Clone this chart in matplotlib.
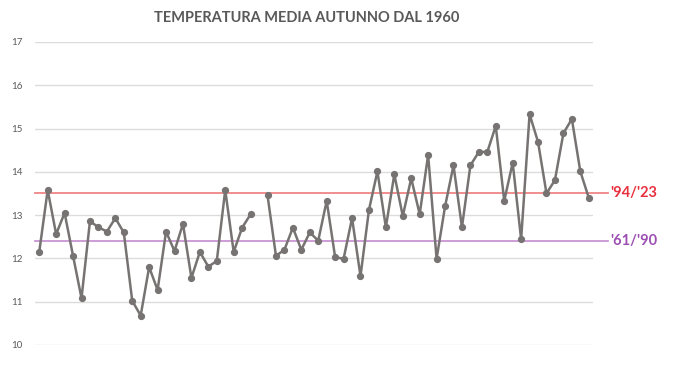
import numpy as np
import matplotlib
matplotlib.use("Agg")
import matplotlib.pyplot as plt

plt.rcParams['font.family'] = ['Lato', 'DejaVu Sans']

# autumn mean temperature, 1960..2025 (1986 missing)
years = np.arange(1960, 2026)
temp = [12.15, 13.58, 12.56, 13.05, 12.06, 11.08, 12.86, 12.72, 12.62, 12.93,
        12.60, 11.02, 10.68, 11.80, 11.27, 12.62, 12.17, 12.80, 11.55, 12.15,
        11.81, 11.94, 13.58, 12.15, 12.71, 13.02, np.nan, 13.46, 12.06, 12.20,
        12.71, 12.20, 12.60, 12.41, 13.33, 12.03, 11.99, 12.93, 11.59, 13.12,
        14.01, 12.72, 13.94, 12.98, 13.85, 13.02, 14.39, 11.99, 13.20, 14.15,
        12.72, 14.15, 14.46, 14.46, 15.06, 13.33, 14.21, 12.44, 15.33, 14.69,
        13.50, 13.81, 14.89, 15.22, 14.01, 13.40]
mean_94_23 = 13.5
mean_61_90 = 12.41
labels = ["'94/'23", "'61/'90"]

fig = plt.figure(figsize=(6.96, 3.85), dpi=100)
ax = fig.add_axes([0.0503, 0.1039, 0.8017, 0.7871])

x = np.arange(len(years))
ax.plot(x, temp, color='#787373', lw=1.8, marker='o', ms=4.2, zorder=3)

# reference means, drawn a bit past the plot area
ax.axhline(mean_94_23, xmin=0, xmax=1.027, color='#f08585', lw=1.3, clip_on=False, zorder=2)
ax.axhline(mean_61_90, xmin=0, xmax=1.027, color='#c994d2', lw=1.3, clip_on=False, zorder=2)
ax.text(1.031, mean_94_23, labels[0], transform=ax.get_yaxis_transform(),
        color='#e8313f', fontsize=10.5, fontweight='bold', va='center', ha='left')
ax.text(1.031, mean_61_90, labels[1], transform=ax.get_yaxis_transform(),
        color='#9c4fb2', fontsize=10.5, fontweight='bold', va='center', ha='left')

ax.set_xlim(-0.5, len(years) - 0.5)
ax.set_ylim(10, 17)
ax.set_yticks(np.arange(10, 18, 1))
ax.set_xticks([])
ax.grid(axis='y', color='#dcdcdc', lw=1)
ax.set_axisbelow(True)
for s in ax.spines.values():
    s.set_visible(False)
ax.tick_params(axis='y', length=0, labelsize=7, labelcolor='#595959', pad=9)

fig.text(307 / 696, 1 - 18 / 385, 'TEMPERATURA MEDIA AUTUNNO DAL 1960',
         ha='center', va='center', fontsize=10.5, fontweight='bold', color='#595959')

fig.savefig('out.png', dpi=100)
